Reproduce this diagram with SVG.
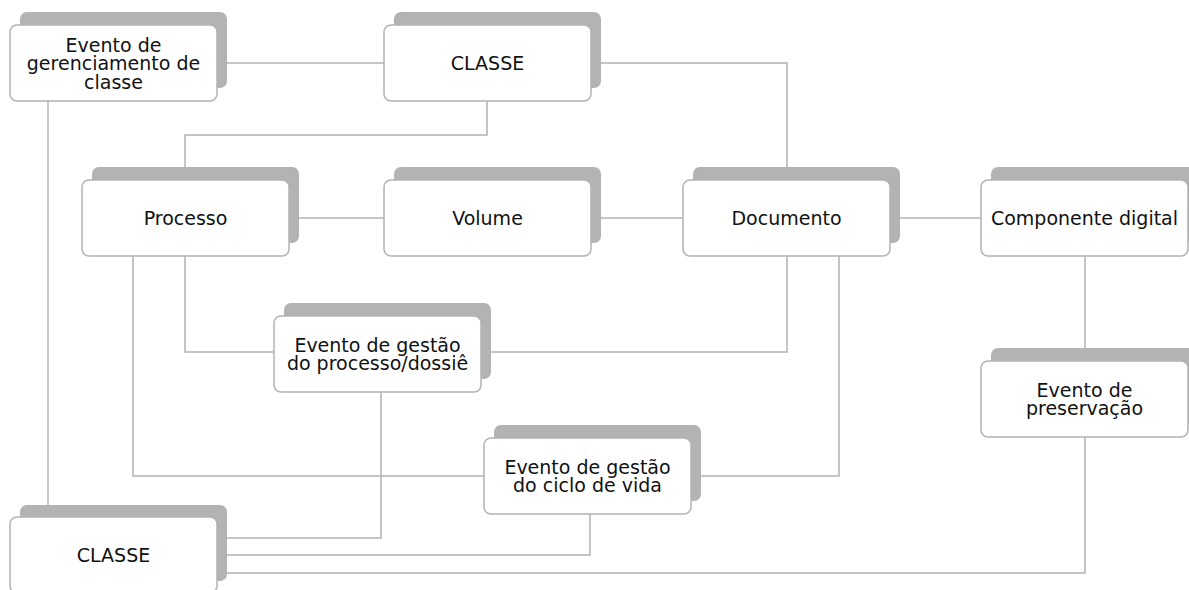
<svg xmlns="http://www.w3.org/2000/svg" width="1189" height="590" viewBox="0 0 1189 590">
<style>
.sh{fill:#b3b3b3;}
.bx{fill:#ffffff;stroke:#b3b3b3;stroke-width:1.5;}
.t{font-family:"DejaVu Sans",Verdana,sans-serif;font-size:19px;fill:#111111;text-anchor:middle;}
.c{fill:none;stroke:#b3b3b3;stroke-width:1.5;}
</style>
<rect width="1189" height="590" fill="#ffffff"/>
<g id="connectors">
<path class="c" d="M217,63 H384"/>
<path class="c" d="M591,63 H787 V180"/>
<path class="c" d="M487,101 V135 H185 V180"/>
<path class="c" d="M289,218 H384"/>
<path class="c" d="M591,218 H683"/>
<path class="c" d="M890,218 H981"/>
<path class="c" d="M1085,256 V361"/>
<path class="c" d="M185,256 V352 H274"/>
<path class="c" d="M481,352 H787 V256"/>
<path class="c" d="M133,256 V476 H484"/>
<path class="c" d="M691,476 H839 V256"/>
<path class="c" d="M48,101 V517"/>
<path class="c" d="M381,392 V538 H217"/>
<path class="c" d="M590,514 V555 H217"/>
<path class="c" d="M1085,437 V573 H217"/>
</g>
<g id="n-evento-gerenciamento">
<rect class="sh" x="20" y="12" width="207" height="76" rx="7"/>
<rect class="bx" x="10" y="25" width="207" height="76" rx="7"/>
<text class="t" x="113.5" y="51.5">Evento de</text>
<text class="t" x="113.5" y="70">gerenciamento de</text>
<text class="t" x="113.5" y="88.5">classe</text>
</g>
<g id="n-classe-top">
<rect class="sh" x="394" y="12" width="207" height="76" rx="7"/>
<rect class="bx" x="384" y="25" width="207" height="76" rx="7"/>
<text class="t" x="487.5" y="70">CLASSE</text>
</g>
<g id="n-processo">
<rect class="sh" x="92" y="167" width="207" height="76" rx="7"/>
<rect class="bx" x="82" y="180" width="207" height="76" rx="7"/>
<text class="t" x="185.5" y="225">Processo</text>
</g>
<g id="n-volume">
<rect class="sh" x="394" y="167" width="207" height="76" rx="7"/>
<rect class="bx" x="384" y="180" width="207" height="76" rx="7"/>
<text class="t" x="487.5" y="225">Volume</text>
</g>
<g id="n-documento">
<rect class="sh" x="693" y="167" width="207" height="76" rx="7"/>
<rect class="bx" x="683" y="180" width="207" height="76" rx="7"/>
<text class="t" x="786.5" y="225">Documento</text>
</g>
<g id="n-componente">
<rect class="sh" x="991" y="167" width="207" height="76" rx="7"/>
<rect class="bx" x="981" y="180" width="207" height="76" rx="7"/>
<text class="t" x="1084.5" y="225">Componente digital</text>
</g>
<g id="n-evento-processo">
<rect class="sh" x="284" y="303" width="207" height="76" rx="7"/>
<rect class="bx" x="274" y="316" width="207" height="76" rx="7"/>
<text class="t" x="377.5" y="351.5">Evento de gestão</text>
<text class="t" x="377.5" y="370">do processo/dossiê</text>
</g>
<g id="n-evento-preservacao">
<rect class="sh" x="991" y="348" width="207" height="76" rx="7"/>
<rect class="bx" x="981" y="361" width="207" height="76" rx="7"/>
<text class="t" x="1084.5" y="396.5">Evento de</text>
<text class="t" x="1084.5" y="415">preservação</text>
</g>
<g id="n-evento-ciclo">
<rect class="sh" x="494" y="425" width="207" height="76" rx="7"/>
<rect class="bx" x="484" y="438" width="207" height="76" rx="7"/>
<text class="t" x="587.5" y="473.5">Evento de gestão</text>
<text class="t" x="587.5" y="492">do ciclo de vida</text>
</g>
<g id="n-classe-bottom">
<rect class="sh" x="20" y="505" width="207" height="76" rx="7"/>
<rect class="bx" x="10" y="517" width="207" height="76" rx="7"/>
<text class="t" x="113.5" y="562">CLASSE</text>
</g>
</svg>
